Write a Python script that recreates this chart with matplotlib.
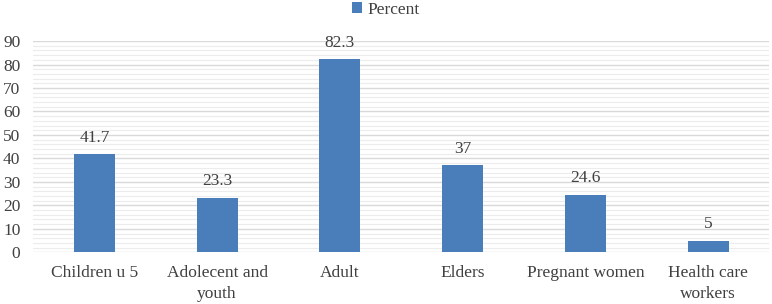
import numpy as np
import matplotlib.pyplot as plt
from matplotlib.ticker import MultipleLocator

categories = ["Children u 5", "Adolecent and\nyouth", "Adult", "Elders",
              "Pregnant women", "Health care\nworkers"]
percent = [41.7, 23.3, 82.3, 37, 24.6, 5]
value_labels = ["41.7", "23.3", "82.3", "37", "24.6", "5"]

plt.rcParams["font.family"] = ["Liberation Serif", "DejaVu Serif"]
FS = 12.5

fig = plt.figure(figsize=(7.72, 3.04), dpi=100)
ax = fig.add_axes([0.0427, 0.170, 0.954, 0.695])

x = np.arange(len(categories))
bars = ax.bar(x, percent, width=0.335, color="#4a7ebb", zorder=3, label="Percent")
for b, lab in zip(bars, value_labels):
    ax.annotate(lab, (b.get_x() + b.get_width() / 2, b.get_height()),
                xytext=(0, 6), textcoords="offset points",
                ha="center", va="bottom", fontsize=FS, color="#404040")

ax.set_xlim(-0.5, len(categories) - 0.5)
ax.set_ylim(0, 90)
ax.yaxis.set_major_locator(MultipleLocator(10))
ax.yaxis.set_minor_locator(MultipleLocator(2))
ax.grid(which="major", axis="y", color="#d9d9d9", lw=1.0, zorder=0)
ax.grid(which="minor", axis="y", color="#ececec", lw=0.8, zorder=0)
for s in ax.spines.values():
    s.set_visible(False)
ax.tick_params(which="both", length=0)
ax.tick_params(axis="y", labelsize=FS, pad=9, labelcolor="#404040")
ax.tick_params(axis="x", labelsize=FS, pad=9, labelcolor="#404040")
ax.set_xticks(x)
ax.set_xticklabels(categories, linespacing=1.4)

fig.legend(*ax.get_legend_handles_labels(), loc="upper center",
           bbox_to_anchor=(0.5, 1.045), frameon=False,
           fontsize=FS, handlelength=0.6, handleheight=0.6, handletextpad=0.3,
           labelcolor="#404040")

fig.savefig("out.png", dpi=100)
